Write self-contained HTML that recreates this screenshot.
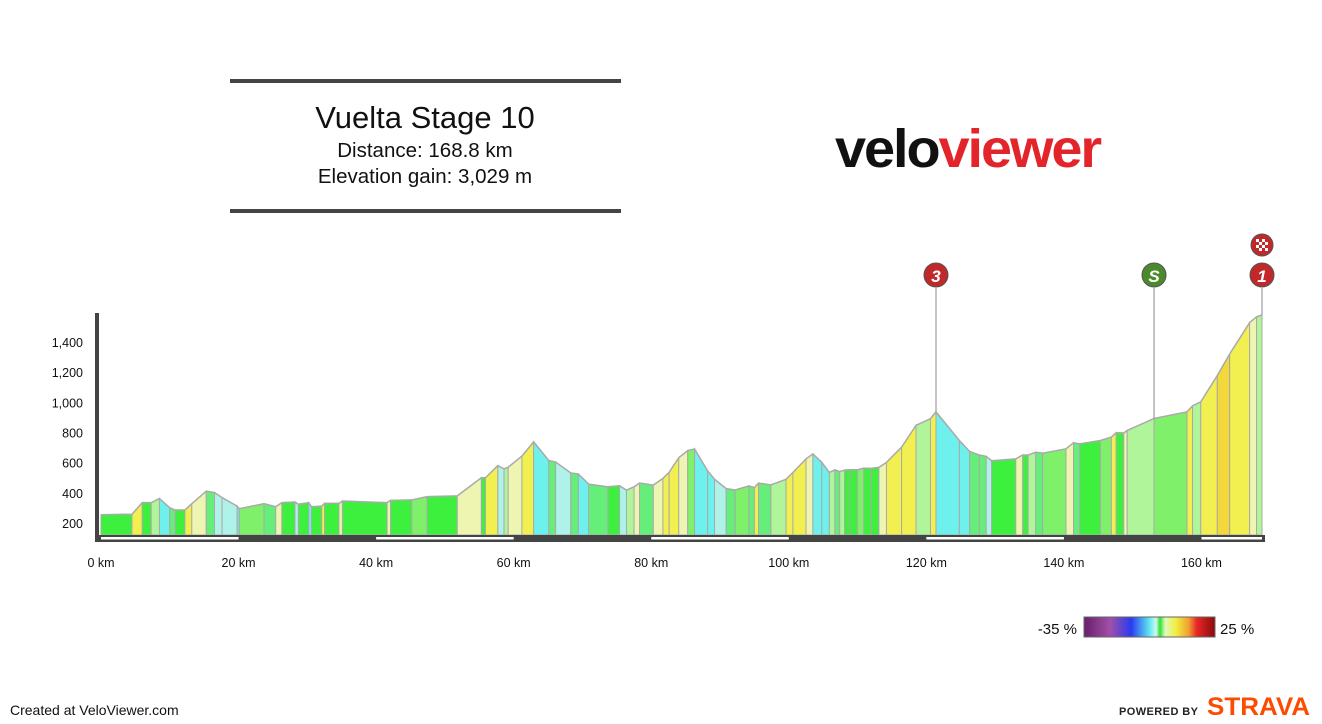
<!DOCTYPE html>
<html><head><meta charset="utf-8"><style>
html,body{margin:0;padding:0;background:#fff;}
svg{display:block;font-family:"Liberation Sans",Arial,sans-serif;}
</style></head><body>
<svg id="chart" width="1322" height="724" viewBox="0 0 1322 724">
  <g>
    <rect x="230" y="79" width="391" height="4" fill="#444"/>
    <rect x="230" y="209" width="391" height="4" fill="#444"/>
    <text x="425" y="128" text-anchor="middle" font-size="31" fill="#111">Vuelta Stage 10</text>
    <text x="425" y="157" text-anchor="middle" font-size="20.5" fill="#111">Distance: 168.8 km</text>
    <text x="425" y="183" text-anchor="middle" font-size="20.5" fill="#111">Elevation gain: 3,029 m</text>
  </g>
  <text x="835" y="167" font-size="54" font-weight="bold" textLength="265" lengthAdjust="spacingAndGlyphs" letter-spacing="-2"><tspan fill="#111">velo</tspan><tspan fill="#e3242b">viewer</tspan></text>
  <g id="profile"></g>
  <g id="axes"></g>
  <g id="markers"></g>
  <g>
    <defs><linearGradient id="lg" x1="0" x2="1">
      <stop offset="0" stop-color="#6a1e6a"/><stop offset="0.2" stop-color="#a050a8"/><stop offset="0.36" stop-color="#2a3af0"/><stop offset="0.5" stop-color="#60e8f0"/><stop offset="0.55" stop-color="#d0f8f0"/><stop offset="0.58" stop-color="#30e030"/><stop offset="0.62" stop-color="#e0f8c0"/><stop offset="0.7" stop-color="#f0f040"/><stop offset="0.8" stop-color="#f0a030"/><stop offset="0.86" stop-color="#e82828"/><stop offset="1" stop-color="#8a0a0a"/>
    </linearGradient></defs>
    <text x="1077" y="634" text-anchor="end" font-size="15" fill="#111">-35 %</text>
    <rect x="1084" y="617" width="131" height="20" fill="url(#lg)" stroke="#666" stroke-width="1"/>
    <text x="1220" y="634" font-size="15" fill="#111">25 %</text>
  </g>
  <text x="10" y="715" font-size="14" fill="#111">Created at VeloViewer.com</text>
  <text x="1119" y="715" font-size="11" font-weight="bold" fill="#222" textLength="79" lengthAdjust="spacing">POWERED BY</text>
  <text x="1207" y="715" font-size="25" font-weight="bold" fill="#fc4c02" textLength="103" lengthAdjust="spacingAndGlyphs">STRAVA</text>
</svg>
<script>
const distKm = [0,4.5,6.0,7.3,8.5,10.0,10.8,12.2,13.2,15.3,16.5,17.6,19.8,20.1,23.7,25.4,26.3,28.2,28.7,30.2,30.6,32.1,32.5,34.6,35.1,41.6,42.1,45.2,47.4,51.8,55.3,55.9,57.7,58.6,59.2,61.2,62.9,65.1,66.1,68.3,69.4,70.9,73.7,75.4,76.4,77.5,78.3,80.3,81.7,82.6,84.0,85.3,86.3,88.2,89.2,90.9,92.2,94.2,95.0,95.6,97.4,99.6,100.6,102.5,103.5,104.8,105.9,106.7,107.4,108.1,108.9,110.0,110.9,112.0,113.1,114.2,116.4,118.5,120.6,121.4,124.8,126.3,127.7,128.7,129.5,133.0,134.0,134.8,135.9,136.9,140.3,141.4,142.3,145.3,146.9,147.6,148.7,149.2,153.1,157.9,158.7,159.9,162.3,164.1,167.0,168.0,168.8];
const elevM = [255,258,335,335,362,301,286,286,328,411,402,368,312,295,328,308,335,339,324,335,308,312,330,330,346,335,350,353,375,380,500,500,581,559,570,644,738,615,604,532,525,458,440,447,418,440,465,451,496,536,633,680,691,546,490,428,419,446,435,464,453,490,535,625,658,602,535,553,540,551,553,553,564,562,569,602,703,848,892,937,747,674,651,642,613,625,651,651,669,663,692,732,725,747,770,799,797,814,893,937,977,1004,1178,1321,1529,1567,1580];
const yTicks = [200,400,600,800,1000,1200,1400];
const yTickLabels = ["200","400","600","800","1,000","1,200","1,400"];
const xTicks = [0,20,40,60,80,100,120,140,160];
const climbNames = ["3","S","1"];
const climbKm = [121.4,153.1,168.8];

const NS="http://www.w3.org/2000/svg";
const X0=101, KMPX=6.878, Y0=523, MPX=0.1508, BASE=535;
const xs = km => X0 + km*KMPX;
const ys = e => Y0 - (e-200)*MPX;
function mk(tag, attrs, parent){const el=document.createElementNS(NS,tag);for(const k in attrs)el.setAttribute(k,attrs[k]);parent.appendChild(el);return el;}
function col(g){
  if(g<-4) return "#6ef0ec"; if(g<-2) return "#aef2ea"; if(g<-0.5) return "#66ee7a";
  if(g<0.8) return "#3ef03e"; if(g<1.5) return "#7ef06a"; if(g<2.5) return "#b0f59a";
  if(g<4) return "#eef5b0"; if(g<7.6) return "#f2f050"; return "#f2d83a";
}
const prof=document.getElementById('profile');
for(let i=0;i<distKm.length-1;i++){
  const g=(elevM[i+1]-elevM[i])/((distKm[i+1]-distKm[i])*10);
  const x1=xs(distKm[i]),x2=xs(distKm[i+1]);
  const p=mk('polygon',{points:`${x1},${BASE} ${x1},${ys(elevM[i])} ${x2},${ys(elevM[i+1])} ${x2},${BASE}`,fill:col(g),stroke:'#aaa','stroke-width':'1'},prof);
  
  
}
const ol=mk('polyline',{points:distKm.map((d,i)=>xs(d)+','+ys(elevM[i])).join(' '),fill:'none',stroke:'#aaa','stroke-width':'1.5'},prof);



const ax=document.getElementById('axes');
const ya=mk('rect',{x:95,y:313,width:4,height:229,fill:'#444'},ax);


const xa=mk('rect',{x:95,y:535,width:1170,height:7,fill:'#444'},ax);


yTicks.forEach((v,i)=>{
  const t=mk('text',{x:83,y:ys(v)+5,'text-anchor':'end','font-size':'12.5',fill:'#111'},ax);
  t.textContent=yTickLabels[i];
  
  
});
xTicks.forEach((v,i)=>{
  const t=mk('text',{x:xs(v),y:567,'text-anchor':'middle','font-size':'12.5',fill:'#111'},ax);
  t.textContent=v+' km';
  
  
  if(i%2===0){
    const end=Math.min(v+20,distKm[distKm.length-1]);
    const s=mk('rect',{x:xs(v),y:537,width:xs(end)-xs(v),height:2.5,fill:'#fff'},ax);
    
    
  }
});

const mg=document.getElementById('markers');
function elevAt(km){for(let i=0;i<distKm.length-1;i++){if(km<=distKm[i+1]){const f=(km-distKm[i])/(distKm[i+1]-distKm[i]);return elevM[i]+f*(elevM[i+1]-elevM[i]);}}return elevM[elevM.length-1];}
climbNames.forEach((n,i)=>{
  const x=xs(climbKm[i]);
  const ln=mk('line',{x1:x,y1:288,x2:x,y2:ys(elevAt(climbKm[i])),stroke:'#888','stroke-width':'1'},mg);
  
  
  const c=mk('circle',{cx:x,cy:275,r:12,fill:n==='S'?'#4a8a2a':'#c0282a',stroke:'#555','stroke-width':'1'},mg);
  
  
  const t=mk('text',{x:x,y:282,'text-anchor':'middle','font-size':'17','font-weight':'bold','font-style':'italic',fill:'#fff'},mg);
  t.textContent=n;
  
  
});
const fx=xs(distKm[distKm.length-1]);
const fc=mk('circle',{cx:fx,cy:245,r:11,fill:'#c0282a',stroke:'#555','stroke-width':'1'},mg);


for(let r=0;r<4;r++)for(let c=0;c<4;c++){if((r+c)%2===0){
  const q=mk('rect',{x:fx-6+c*3,y:239+r*3,width:3,height:3,fill:'#fff'},mg);
  
  
}}
</script>
</body></html>
